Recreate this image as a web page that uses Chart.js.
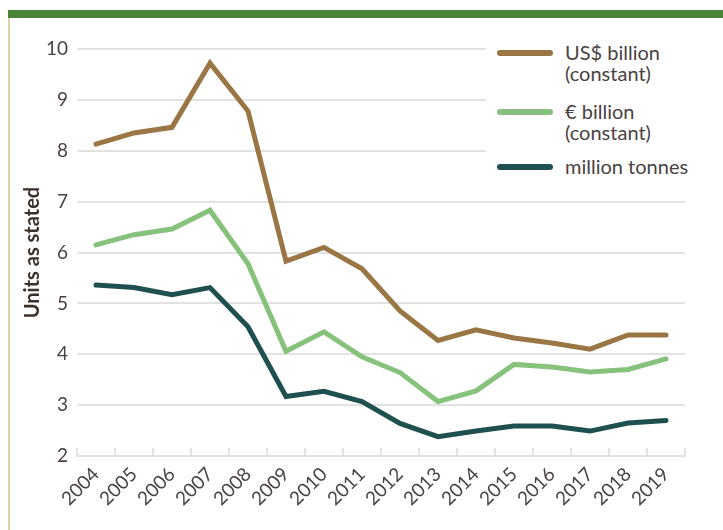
<!DOCTYPE html>
<html lang="en">
<head>
    <meta charset="UTF-8">
    <title>Units as stated</title>
    <script src="https://cdn.jsdelivr.net/npm/chart.js"></script>
    <style>
        body { margin: 0; background: #fff; width: 723px; height: 530px; position: relative; overflow: hidden; font-family: Lato, sans-serif; }
        #topbar { position: absolute; left: 8px; top: 10px; right: 0; height: 8px; background: #4a8436; }
        #leftbar { position: absolute; left: 8px; top: 18px; bottom: 0; width: 2px; background: #d8d2a6; }
        #chart { position: absolute; left: 0; top: 0; }
        #legend { position: absolute; left: 486px; top: 30px; width: 237px; height: 158px; background: #fff; }
        .swatch { position: absolute; left: 11px; width: 56px; height: 6px; border-radius: 3px; }
        .txt { position: absolute; left: 79px; width: 160px; font-size: 20px; line-height: 21px; color: #4a4242; }
    </style>
</head>
<body>
    <div id="topbar"></div>
    <div id="leftbar"></div>
    <canvas id="chart" width="723" height="530"></canvas>
    <div id="legend"></div>

    <script>
        const years = ['2004','2005','2006','2007','2008','2009','2010','2011','2012','2013','2014','2015','2016','2017','2018','2019'];
        const usd = [8.13, 8.35, 8.46, 9.72, 8.78, 5.83, 6.1, 5.68, 4.85, 4.27, 4.48, 4.32, 4.22, 4.1, 4.38, 4.38];
        const eur = [6.15, 6.35, 6.46, 6.83, 5.78, 4.06, 4.44, 3.95, 3.64, 3.07, 3.28, 3.8, 3.75, 3.65, 3.7, 3.91];
        const tonnes = [5.36, 5.31, 5.17, 5.31, 4.54, 3.17, 3.27, 3.07, 2.64, 2.38, 2.49, 2.59, 2.59, 2.49, 2.65, 2.7];
        const seriesNames = [['US$ billion', '(constant)'], ['€ billion', '(constant)'], ['million tonnes']];
        const colors = ['#9b7645', '#86c27c', '#1f5050'];

        const grid = '#e2e2e2';
        const textColor = '#4a4242';

        const ctx = document.getElementById('chart').getContext('2d');
        const chart = new Chart(ctx, {
            type: 'line',
            data: {
                labels: years,
                datasets: [usd, eur, tonnes].map((d, i) => ({
                    label: seriesNames[i].join(' '),
                    data: d,
                    borderColor: colors[i],
                    backgroundColor: colors[i],
                    borderWidth: 5,
                    borderCapStyle: 'round',
                    borderJoinStyle: 'miter',
                    pointRadius: 0,
                    tension: 0,
                    fill: false
                }))
            },
            options: {
                responsive: false,
                animation: false,
                devicePixelRatio: 1,
                layout: { padding: { top: 49, right: 38, left: 0, bottom: 0 } },
                plugins: {
                    legend: { display: false },
                    tooltip: { enabled: false }
                },
                scales: {
                    x: {
                        offset: true,
                        grid: { drawOnChartArea: false, drawTicks: true, tickLength: -8, color: grid, lineWidth: 2, offset: true },
                        border: { display: true, color: grid, width: 2 },
                        ticks: {
                            color: textColor,
                            font: { family: 'Lato', size: 19 },
                            minRotation: 45,
                            maxRotation: 45,
                            autoSkip: false,
                            padding: 15
                        },
                        afterFit: s => { s.height = 74; }
                    },
                    y: {
                        min: 2,
                        max: 10,
                        grid: { color: grid, lineWidth: 2, drawTicks: false },
                        border: { display: false },
                        ticks: {
                            stepSize: 1,
                            color: textColor,
                            font: { family: 'Lato', size: 19 },
                            padding: 9
                        },
                        title: {
                            display: true,
                            text: 'Units as stated',
                            color: '#3a302c',
                            font: { family: 'Lato', size: 20, weight: 'bold' },
                            padding: { top: 21, bottom: 0 }
                        },
                        afterFit: s => { s.width = 77; }
                    }
                }
            }
        });

        // legend with two-line labels
        const legend = document.getElementById('legend');
        const tops = [23, 82, 137];
        seriesNames.forEach((name, i) => {
            const sw = document.createElement('div');
            sw.className = 'swatch';
            sw.style.top = (tops[i] - 3) + 'px';
            sw.style.background = colors[i];
            legend.appendChild(sw);
            const t = document.createElement('div');
            t.className = 'txt';
            t.style.top = (tops[i] - 11) + 'px';
            t.innerHTML = name.join('<br>');
            legend.appendChild(t);
        });
    </script>
</body>
</html>
